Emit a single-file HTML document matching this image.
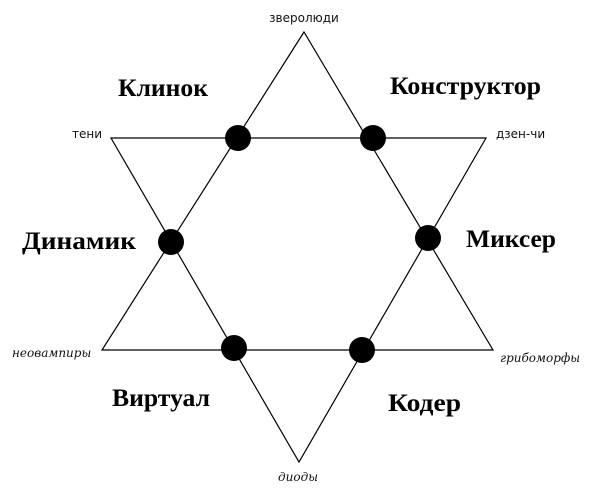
<!DOCTYPE html>
<html><head><meta charset="utf-8"><style>
html,body{margin:0;padding:0;background:#fff;}
svg{display:block;}
.b{font-family:"Liberation Serif","DejaVu Serif",serif;font-weight:bold;font-size:25px;fill:#000;}
.s{font-family:"DejaVu Sans","Liberation Sans",sans-serif;font-size:12px;fill:#111;}
.i{font-family:"DejaVu Serif","Liberation Serif",serif;font-style:italic;font-size:12px;fill:#111;}
</style></head><body>
<svg width="600" height="503" viewBox="0 0 600 503" xmlns="http://www.w3.org/2000/svg">
<g fill="none" stroke="#000" stroke-width="1.2">
<polygon points="304,32 102,350 493,350"/>
<polygon points="111,138 486,138 299,462"/>
</g>
<g fill="#000">
<circle cx="238" cy="138" r="13"/>
<circle cx="373" cy="138" r="13"/>
<circle cx="171" cy="242" r="13"/>
<circle cx="428" cy="238" r="13"/>
<circle cx="234" cy="348" r="13"/>
<circle cx="362" cy="350" r="13"/>
</g>
<text class="b" x="118" y="96" textLength="90" lengthAdjust="spacingAndGlyphs">Клинок</text>
<text class="b" x="390" y="94" textLength="151" lengthAdjust="spacingAndGlyphs">Конструктор</text>
<text class="b" x="22" y="249" textLength="114" lengthAdjust="spacingAndGlyphs">Динамик</text>
<text class="b" x="466" y="247" textLength="90" lengthAdjust="spacingAndGlyphs">Миксер</text>
<text class="b" x="112" y="406" textLength="98" lengthAdjust="spacingAndGlyphs">Виртуал</text>
<text class="b" x="388" y="411" textLength="73" lengthAdjust="spacingAndGlyphs">Кодер</text>
<text class="s" x="304" y="22" text-anchor="middle">зверолюди</text>
<text class="s" x="72" y="138">тени</text>
<text class="s" x="496" y="138">дзен-чи</text>
<text class="i" x="12" y="357">неовампиры</text>
<text class="i" x="500" y="362">грибоморфы</text>
<text class="i" x="298" y="481" text-anchor="middle">диоды</text>
</svg>
</body></html>
